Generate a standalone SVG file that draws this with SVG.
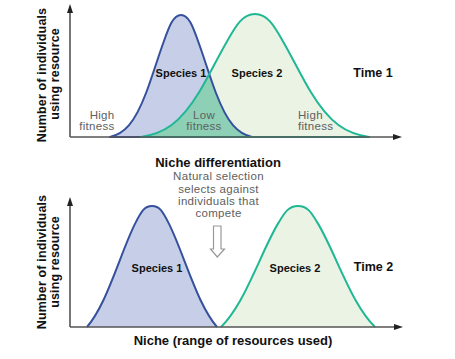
<svg xmlns="http://www.w3.org/2000/svg" width="455" height="359" viewBox="0 0 455 359">
<defs>
<style>
.ax{stroke:#555;stroke-width:1.6;fill:none}
.ah{fill:#222}
.s1{fill:#c6cfe7}
.s2{fill:#eaf3e4}
.ov{fill:#8dd0b6}
.l1{fill:none;stroke:#35509c;stroke-width:2;stroke-linejoin:round}
.l2{fill:none;stroke:#1fb794;stroke-width:2;stroke-linejoin:round}
.b{font-family:"Liberation Sans",Arial,sans-serif;font-weight:bold;fill:#111}
.g{font-family:"Liberation Sans",Arial,sans-serif;fill:#606060;font-size:11.5px;letter-spacing:0.3px}
</style>
<path id="top1" d="M110,137 C116.28,135.5 122.57,132.7 128.86,125.4 C134.65,118.7 140.44,107.7 146.24,92.5 C152.03,77.3 157.83,57.8 163.62,42 C169.41,25.5 173.5,15 181,15 C188.5,15 192.59,25.5 198.38,42 C204.17,57.8 209.97,77.3 215.76,92.5 C221.56,107.7 227.35,118.7 233.14,125.4 C239.43,132.7 245.72,135.5 252,137 Z"/>
<path id="top2" d="M141,137 C151.1,135.5 161.2,132.6 171.29,125.3 C180.59,118.5 189.9,107.5 199.2,92.1 C208.5,76.8 217.8,57.2 227.1,41.2 C236.4,24.5 243,14 255,14 C267,14 273.6,24.5 282.9,41.2 C292.2,57.2 301.5,76.8 310.8,92.1 C320.1,107.5 329.41,118.5 338.71,125.3 C348.8,132.6 358.9,135.5 369,137 Z"/>
<clipPath id="clip1"><use href="#top1"/></clipPath>
</defs>
<rect width="455" height="359" fill="#fff"/>

<g id="time1-panel">
  <use href="#top2" class="s2"/>
  <use href="#top1" class="s1"/>
  <use href="#top2" class="ov" clip-path="url(#clip1)"/>
  <use href="#top1" class="l1"/>
  <use href="#top2" class="l2"/>
  <g id="axes-top">
    <path class="ax" d="M70,137 V11 M70,137 H394"/>
    <path class="ah" d="M70,4 L73,13 L67,13 Z"/>
    <path class="ah" d="M402,137 L393,134 L393,140 Z"/>
  </g>
  <text class="b" x="181" y="77" font-size="11" text-anchor="middle">Species 1</text>
  <text class="b" x="257" y="77" font-size="11" text-anchor="middle">Species 2</text>
  <text class="b" x="373" y="76.5" font-size="12.5" text-anchor="middle">Time 1</text>
  <text class="g" x="114.5" y="118.5" text-anchor="end">High</text>
  <text class="g" x="114.5" y="130" text-anchor="end">fitness</text>
  <text class="g" x="204" y="118.5" text-anchor="middle">Low</text>
  <text class="g" x="204" y="130" text-anchor="middle">fitness</text>
  <text class="g" x="298" y="118.5">High</text>
  <text class="g" x="298" y="130">fitness</text>
  <text class="b" font-size="12.5" letter-spacing="0.15" text-anchor="middle" transform="translate(45.5,75) rotate(-90)">Number of individuals</text>
  <text class="b" font-size="12.5" letter-spacing="0.15" text-anchor="middle" transform="translate(59,74) rotate(-90)">using resource</text>
</g>

<g id="middle">
  <text class="b" x="218" y="166.5" font-size="13" text-anchor="middle">Niche differentiation</text>
  <text class="g" x="218.5" y="180" text-anchor="middle" letter-spacing="0">Natural selection</text>
  <text class="g" x="218.5" y="192.5" text-anchor="middle" letter-spacing="0">selects against</text>
  <text class="g" x="218.5" y="205" text-anchor="middle" letter-spacing="0">individuals that</text>
  <text class="g" x="218.5" y="217" text-anchor="middle" letter-spacing="0">compete</text>
</g>

<g id="connectors">
  <path d="M213.5,226 H221 V249 H224.5 L217.3,257 L210.5,249 H213.5 Z" fill="#fff" stroke="#999" stroke-width="1.2" stroke-linejoin="miter"/>
</g>

<g id="time2-panel">
  <path class="s1" d="M87,327 C92.42,320.7 97.83,311.9 103.25,300.5 C108.67,289.1 114.08,275.2 119.5,261.1 C124.92,246.9 130.33,232.7 135.75,222.4 C141.17,211.5 144.5,206 152,206 C159.5,206 162.83,211.5 168.25,222.4 C173.67,232.7 179.08,246.9 184.5,261.1 C189.92,275.2 195.33,289.1 200.75,300.5 C206.17,311.9 211.58,320.7 217,327 Z"/>
  <path class="s2" d="M221,327 C227.42,320.7 233.83,311.9 240.25,300.5 C246.67,289.1 253.08,275.2 259.5,261.1 C265.92,246.9 272.33,232.7 278.75,222.4 C285.17,211.5 289,206 298,206 C307,206 310.83,211.5 317.25,222.4 C323.67,232.7 330.08,246.9 336.5,261.1 C342.92,275.2 349.33,289.1 355.75,300.5 C362.17,311.9 368.58,320.7 375,327 Z"/>
  <path class="l1" d="M87,327 C92.42,320.7 97.83,311.9 103.25,300.5 C108.67,289.1 114.08,275.2 119.5,261.1 C124.92,246.9 130.33,232.7 135.75,222.4 C141.17,211.5 144.5,206 152,206 C159.5,206 162.83,211.5 168.25,222.4 C173.67,232.7 179.08,246.9 184.5,261.1 C189.92,275.2 195.33,289.1 200.75,300.5 C206.17,311.9 211.58,320.7 217,327"/>
  <path class="l2" d="M221,327 C227.42,320.7 233.83,311.9 240.25,300.5 C246.67,289.1 253.08,275.2 259.5,261.1 C265.92,246.9 272.33,232.7 278.75,222.4 C285.17,211.5 289,206 298,206 C307,206 310.83,211.5 317.25,222.4 C323.67,232.7 330.08,246.9 336.5,261.1 C342.92,275.2 349.33,289.1 355.75,300.5 C362.17,311.9 368.58,320.7 375,327"/>
  <g id="axes-bottom">
    <path class="ax" d="M70,327 V204 M70,327 H395"/>
    <path class="ah" d="M70,197 L73,206 L67,206 Z"/>
    <path class="ah" d="M403,327 L394,324 L394,330 Z"/>
  </g>
  <text class="b" x="157" y="271.5" font-size="11" text-anchor="middle">Species 1</text>
  <text class="b" x="295" y="271.5" font-size="11" text-anchor="middle">Species 2</text>
  <text class="b" x="373.5" y="270.5" font-size="12.5" text-anchor="middle">Time 2</text>
  <text class="b" x="233" y="345" font-size="13" text-anchor="middle">Niche (range of resources used)</text>
  <text class="b" font-size="12.5" letter-spacing="0.15" text-anchor="middle" transform="translate(45.5,262) rotate(-90)">Number of individuals</text>
  <text class="b" font-size="12.5" letter-spacing="0.15" text-anchor="middle" transform="translate(59,262) rotate(-90)">using resource</text>
</g>
</svg>
